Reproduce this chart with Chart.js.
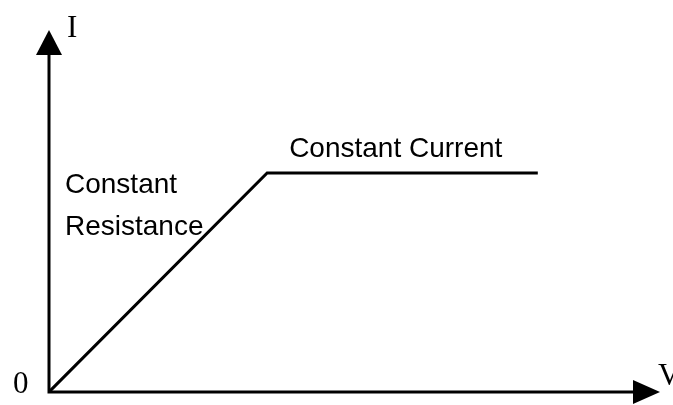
<!DOCTYPE html>
<html lang="en">
<head>
    <meta charset="UTF-8" />
    <title>Constant Current / Constant Resistance</title>
    <script src="https://cdn.jsdelivr.net/npm/chart.js"></script>
    <style>
        body {
            margin: 0;
            background-color: #ffffff;
        }
    </style>
</head>
<body>

<canvas id="ivChart" width="673" height="405"></canvas>

<script>
    // I-V curve: ramp (constant resistance) then flat (constant current)
    const voltage = [0, 35.7, 80];
    const current = [0, 60.5, 60.5];
    const axisMax = { x: 100, y: 100 };

    const sansFont = '28px "Liberation Sans", Arial, sans-serif';
    const serifFont = '31px "Liberation Serif", "Times New Roman", serif';

    const axesPlugin = {
        id: 'axesPlugin',
        beforeDatasetsDraw(chart) {
            const ctx = chart.ctx;
            const x = chart.scales.x;
            const y = chart.scales.y;
            const x0 = x.getPixelForValue(0);
            const y0 = y.getPixelForValue(0);
            const xEnd = x.getPixelForValue(axisMax.x);
            const yEnd = y.getPixelForValue(axisMax.y);

            ctx.save();
            ctx.strokeStyle = '#000';
            ctx.fillStyle = '#000';
            ctx.lineWidth = 3;
            ctx.lineCap = 'butt';

            // axis lines
            ctx.beginPath();
            ctx.moveTo(x0, y0 + 1.5);
            ctx.lineTo(x0, yEnd + 20);
            ctx.moveTo(x0 - 1.5, y0);
            ctx.lineTo(xEnd - 20, y0);
            ctx.stroke();

            // arrow heads
            ctx.beginPath();
            ctx.moveTo(x0, yEnd);
            ctx.lineTo(x0 - 13, yEnd + 25);
            ctx.lineTo(x0 + 13, yEnd + 25);
            ctx.closePath();
            ctx.fill();

            ctx.beginPath();
            ctx.moveTo(xEnd, y0);
            ctx.lineTo(xEnd - 27, y0 - 12);
            ctx.lineTo(xEnd - 27, y0 + 12);
            ctx.closePath();
            ctx.fill();

            // axis labels
            ctx.font = serifFont;
            ctx.textBaseline = 'alphabetic';
            ctx.textAlign = 'left';
            ctx.fillText('I', x0 + 18, yEnd + 7);
            ctx.fillText('0', x0 - 36, y0 + 1);
            ctx.fillText('V', xEnd - 2, y0 - 7);
            ctx.restore();
        },
        afterDatasetsDraw(chart) {
            const ctx = chart.ctx;
            const x = chart.scales.x;
            const y = chart.scales.y;
            const kneeX = x.getPixelForValue(voltage[1]);
            const kneeY = y.getPixelForValue(current[1]);
            const x0 = x.getPixelForValue(0);

            ctx.save();
            ctx.fillStyle = '#000';
            ctx.font = sansFont;
            ctx.textAlign = 'left';
            ctx.textBaseline = 'alphabetic';
            ctx.fillText('Constant Current', kneeX + 22, kneeY - 16);
            ctx.fillText('Constant', x0 + 16, kneeY + 20);
            ctx.fillText('Resistance', x0 + 16, kneeY + 62);
            ctx.restore();
        }
    };

    new Chart(document.getElementById('ivChart'), {
        type: 'scatter',
        data: {
            datasets: [{
                data: voltage.map((v, i) => ({ x: v, y: current[i] })),
                showLine: true,
                borderColor: '#000',
                borderWidth: 3,
                pointRadius: 0,
                tension: 0
            }]
        },
        options: {
            responsive: false,
            animation: false,
            layout: {
                padding: { left: 49, right: 13, top: 30, bottom: 13 }
            },
            scales: {
                x: { type: 'linear', min: 0, max: axisMax.x, display: false },
                y: { type: 'linear', min: 0, max: axisMax.y, display: false }
            },
            plugins: {
                legend: { display: false },
                tooltip: { enabled: false }
            }
        },
        plugins: [axesPlugin]
    });
</script>

</body>
</html>
